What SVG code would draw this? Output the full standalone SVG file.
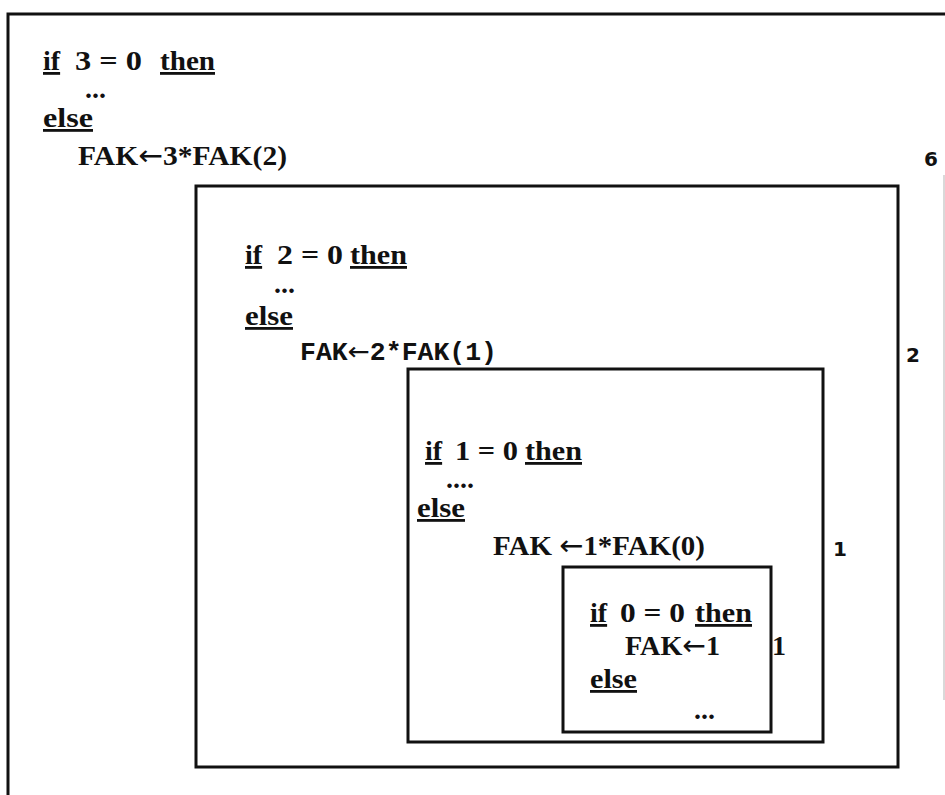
<svg xmlns="http://www.w3.org/2000/svg" width="945" height="795" viewBox="0 0 945 795">
<style>
.t{font-family:"Liberation Serif","Times New Roman",serif;font-weight:bold;font-size:28px;fill:#111}
.u{text-decoration:underline}
.m{font-family:"Liberation Mono","Courier New",monospace;font-weight:bold;font-size:25px;fill:#111}
.n{font-family:"DejaVu Sans","Liberation Sans",sans-serif;font-weight:bold;font-size:20px;fill:#111}
.a{font-family:"DejaVu Sans",sans-serif;font-weight:normal}
.box{fill:none;stroke:#111;stroke-width:3}
</style>
<rect width="945" height="795" fill="#fff"/>
<g id="outer">
<path class="box" d="M8,795 V14 H945"/>
<line x1="944" y1="175" x2="944" y2="700" stroke="#ccc" stroke-width="1.5"/>
<text class="t u" x="43" y="70">if</text>
<text class="t" x="75" y="70" textLength="67" lengthAdjust="spacingAndGlyphs">3 = 0</text>
<text class="t u" x="160" y="70" textLength="55" lengthAdjust="spacingAndGlyphs">then</text>
<text class="t" x="85" y="98" font-size="20">...</text>
<text class="t u" x="43" y="127" textLength="50" lengthAdjust="spacingAndGlyphs">else</text>
<text class="t" x="78" y="165" textLength="209" lengthAdjust="spacingAndGlyphs">FAK<tspan class="a">←</tspan>3*FAK(2)</text>
<text class="n" x="924" y="166" font-size="22">6</text>
</g>
<g id="call2">
<rect class="box" x="196" y="186" width="702" height="581"/>
<text class="t u" x="245" y="264">if</text>
<text class="t" x="277" y="264" textLength="66" lengthAdjust="spacingAndGlyphs">2 = 0</text>
<text class="t u" x="350" y="264" textLength="57" lengthAdjust="spacingAndGlyphs">then</text>
<text class="t" x="274" y="293" font-size="20">...</text>
<text class="t u" x="245" y="325" textLength="48" lengthAdjust="spacingAndGlyphs">else</text>
<text class="m" x="300" y="360" textLength="197" lengthAdjust="spacingAndGlyphs">FAK<tspan class="a">←</tspan>2*FAK(1)</text>
<text class="n" x="906" y="362">2</text>
</g>
<g id="call1">
<rect class="box" x="408" y="369" width="415" height="373"/>
<text class="t u" x="425" y="460">if</text>
<text class="t" x="455" y="460" textLength="63" lengthAdjust="spacingAndGlyphs">1 = 0</text>
<text class="t u" x="525" y="460" textLength="57" lengthAdjust="spacingAndGlyphs">then</text>
<text class="t" x="446" y="488" font-size="20">....</text>
<text class="t u" x="417" y="517" textLength="48" lengthAdjust="spacingAndGlyphs">else</text>
<text class="t" x="493" y="555" textLength="212" lengthAdjust="spacingAndGlyphs">FAK <tspan class="a">←</tspan>1*FAK(0)</text>
<text class="n" x="833" y="556">1</text>
</g>
<g id="call0">
<rect class="box" x="563" y="567" width="208" height="165"/>
<text class="t u" x="590" y="622">if</text>
<text class="t" x="620" y="622" textLength="65" lengthAdjust="spacingAndGlyphs">0 = 0</text>
<text class="t u" x="695" y="622" textLength="57" lengthAdjust="spacingAndGlyphs">then</text>
<text class="t" x="625" y="655" textLength="95" lengthAdjust="spacingAndGlyphs">FAK<tspan class="a">←</tspan>1</text>
<text class="t" x="772" y="655">1</text>
<text class="t u" x="590" y="688" textLength="47" lengthAdjust="spacingAndGlyphs">else</text>
<text class="t" x="694" y="719" font-size="20">...</text>
</g>
<g id="connectors"></g>
</svg>
